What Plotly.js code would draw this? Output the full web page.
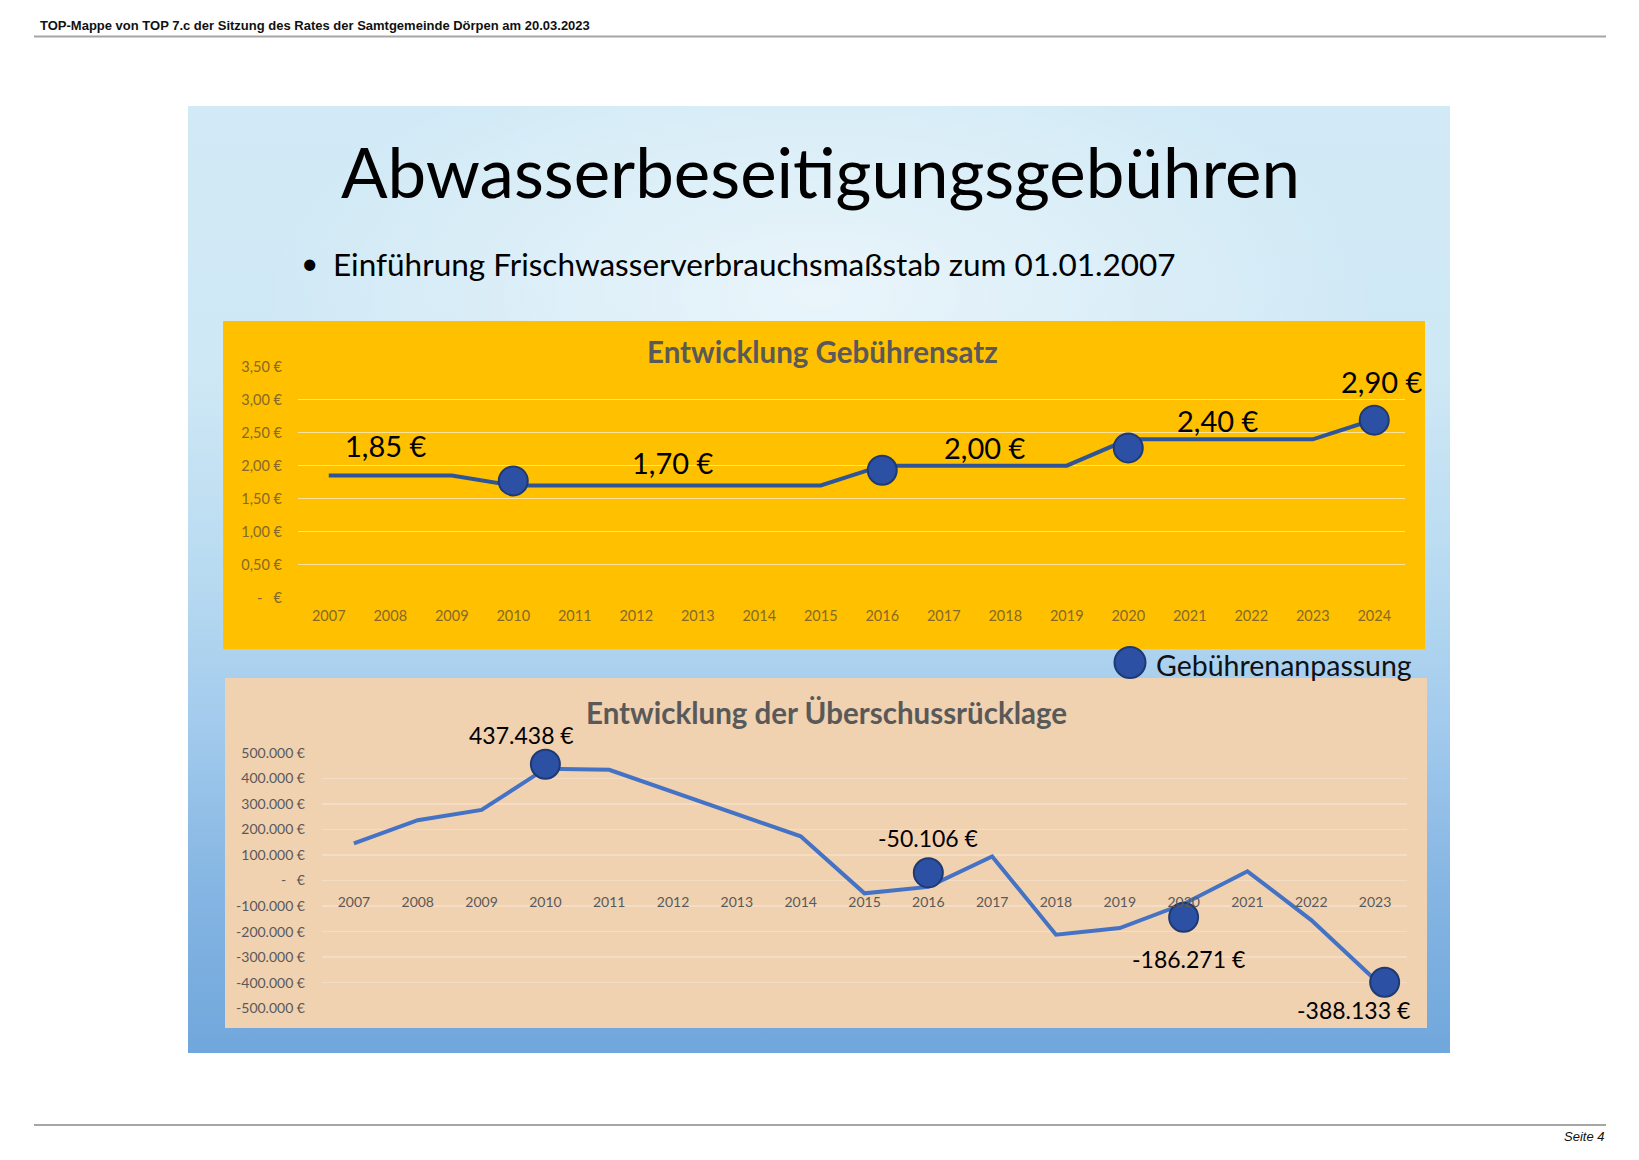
<!DOCTYPE html>
<html>
<head>
<meta charset="utf-8">
<script src="https://cdn.plot.ly/plotly-3.0.1.min.js"></script>
<style>
  html, body { margin: 0; padding: 0; background: #ffffff; }
  #wrap { position: relative; width: 1639px; height: 1160px; overflow: hidden; }
  #slide { position: absolute; left: 188px; top: 106px; width: 1262px; height: 947px;
    background:
      radial-gradient(ellipse 45% 28% at 50% 20%, rgba(255,255,255,0.55) 0%, rgba(255,255,255,0) 100%),
      linear-gradient(to bottom, #d1eaf6 0%, #cfe8f5 28%, #b7daf1 50%, #a3cbed 65%, #86b6e3 82%, #70a7dc 100%); }
  #chart { position: absolute; left: 0; top: 0; width: 1639px; height: 1160px; }
</style>
</head>
<body>
<div id="wrap">
  <div id="slide"></div>
  <div id="chart"></div>
</div>
<script>
// ---------- data ----------
const years1 = [2007, 2008, 2009, 2010, 2011, 2012, 2013, 2014, 2015, 2016, 2017, 2018, 2019, 2020, 2021, 2022, 2023, 2024];
const rate = [1.85, 1.85, 1.85, 1.70, 1.70, 1.70, 1.70, 1.70, 1.70, 2.00, 2.00, 2.00, 2.00, 2.40, 2.40, 2.40, 2.40, 2.70];
const adjYears1 = [2010, 2016, 2020, 2024];
const adjRate = [1.77, 1.93, 2.27, 2.69];
const rateLabels = ['1,85 €', '1,70 €', '2,00 €', '2,40 €', '2,90 €'];
const rateLabelYears = [2008, 2013, 2018, 2021, 2024];
const rateTicks = [0, 0.5, 1.0, 1.5, 2.0, 2.5, 3.0, 3.5];
const rateTickText = ['-\u00a0\u00a0\u00a0€', '0,50 €', '1,00 €', '1,50 €', '2,00 €', '2,50 €', '3,00 €', '3,50 €'];

const years2 = [2007, 2008, 2009, 2010, 2011, 2012, 2013, 2014, 2015, 2016, 2017, 2018, 2019, 2020, 2021, 2022, 2023];
const reserve = [145000, 236000, 276000, 437438, 433000, 346000, 260000, 173000, -50106, -25000, 94000, -212000, -186271, -92000, 36000, -155000, -388133];
const adjYears2 = [2010, 2016, 2020, 2023.15];
const adjReserve = [455000, 30000, -144000, -398000];
const reserveLabels = ['437.438 €', '-50.106 €', '-186.271 €', '-388.133 €'];
const reserveTicks = [-500000, -400000, -300000, -200000, -100000, 0, 100000, 200000, 300000, 400000, 500000];
const reserveTickText = ['-500.000 €', '-400.000 €', '-300.000 €', '-200.000 €', '-100.000 €', '-\u00a0\u00a0\u00a0€', '100.000 €', '200.000 €', '300.000 €', '400.000 €', '500.000 €'];

const headerText = 'TOP-Mappe von TOP 7.c der Sitzung des Rates der Samtgemeinde Dörpen am 20.03.2023';
const footerText = 'Seite 4';
const slideTitle = 'Abwasserbeseitigungsgebühren';
const slideBullet = 'Einführung Frischwasserverbrauchsmaßstab zum 01.01.2007';
const chart1Title = 'Entwicklung Gebührensatz';
const chart2Title = 'Entwicklung der Überschussrücklage';
const legendText = 'Gebührenanpassung';

// ---------- layout helpers ----------
const W = 1639, H = 1160;
const px = x => x / W;
const py = y => 1 - y / H;

const gothic = 'Lato, "Open Sans", sans-serif';
const calibri = 'Lato, "Open Sans", sans-serif';
const blueMark = '#2c50a3';
const blueEdge = '#1f3a73';

const traces = [
  { x: years1, y: rate, xaxis: 'x', yaxis: 'y', type: 'scatter', mode: 'lines',
    line: { color: '#2f5597', width: 4 }, hoverinfo: 'skip', showlegend: false },
  { x: adjYears1, y: adjRate, xaxis: 'x', yaxis: 'y', type: 'scatter', mode: 'markers',
    marker: { size: 29, color: blueMark, line: { color: blueEdge, width: 2 } }, cliponaxis: false,
    hoverinfo: 'skip', showlegend: false },
  { x: years2, y: reserve, xaxis: 'x2', yaxis: 'y2', type: 'scatter', mode: 'lines',
    line: { color: '#4472c4', width: 4 }, hoverinfo: 'skip', showlegend: false },
  { x: adjYears2, y: adjReserve, xaxis: 'x2', yaxis: 'y2', type: 'scatter', mode: 'markers',
    marker: { size: 29, color: blueMark, line: { color: blueEdge, width: 2 } }, cliponaxis: false,
    hoverinfo: 'skip', showlegend: false }
];

const rateShift = [[-5, 30], [-25, 23.5], [-21, 18], [28, 19], [7, 38.5]];
const reserveShift = [[-23.5, 29.5], [0, 35], [5, -42], [-31, -28]];

const annotations = [];
annotations.push({ xref: 'paper', yref: 'paper', x: px(38), y: py(25), xanchor: 'left', yanchor: 'middle',
  text: '<b>' + headerText + '</b>', showarrow: false, font: { family: '"Liberation Sans", Arial, sans-serif', size: 13, color: '#111' } });
annotations.push({ xref: 'paper', yref: 'paper', x: px(1606), y: py(1136), xanchor: 'right', yanchor: 'middle',
  text: '<i>' + footerText + '</i>', showarrow: false, font: { family: '"Liberation Sans", Arial, sans-serif', size: 13, color: '#111' } });
annotations.push({ xref: 'paper', yref: 'paper', x: px(820), y: py(172), xanchor: 'center', yanchor: 'middle',
  text: slideTitle, showarrow: false, font: { family: gothic, size: 69, color: '#000' } });
annotations.push({ xref: 'paper', yref: 'paper', x: px(309), y: py(262), xanchor: 'center', yanchor: 'middle',
  text: '•', showarrow: false, font: { family: gothic, size: 30, color: '#000' } });
annotations.push({ xref: 'paper', yref: 'paper', x: px(331), y: py(264), xanchor: 'left', yanchor: 'middle',
  text: slideBullet, showarrow: false, font: { family: gothic, size: 31.5, color: '#000' } });
annotations.push({ xref: 'paper', yref: 'paper', x: px(823), y: py(352), xanchor: 'center', yanchor: 'middle',
  text: '<b>' + chart1Title + '</b>', showarrow: false, font: { family: gothic, size: 29.5, color: '#595959' } });
annotations.push({ xref: 'paper', yref: 'paper', x: px(826), y: py(712), xanchor: 'center', yanchor: 'middle',
  text: '<b>' + chart2Title + '</b>', showarrow: false, font: { family: calibri, size: 29.5, color: '#595959' } });
annotations.push({ xref: 'paper', yref: 'paper', x: px(1154), y: py(665), xanchor: 'left', yanchor: 'middle',
  text: legendText, showarrow: false, font: { family: gothic, size: 28.5, color: '#111' } });

rateLabels.forEach((t, i) => {
  const yr = rateLabelYears[i];
  annotations.push({ xref: 'x', yref: 'y', x: yr, y: rate[years1.indexOf(yr)], text: t, showarrow: false,
    xanchor: 'center', yanchor: 'middle', xshift: rateShift[i][0], yshift: rateShift[i][1],
    font: { family: gothic, size: 29, color: '#000' } });
});
reserveLabels.forEach((t, i) => {
  annotations.push({ xref: 'x2', yref: 'y2', x: adjYears2[i], y: adjReserve[i], text: t, showarrow: false,
    xanchor: 'center', yanchor: 'middle', xshift: reserveShift[i][0], yshift: reserveShift[i][1],
    font: { family: gothic, size: 23, color: '#000' } });
});

const shapes = [
  { type: 'line', xref: 'paper', yref: 'paper', x0: px(34), x1: px(1606), y0: py(36.5), y1: py(36.5), line: { color: '#a6a6a6', width: 2 } },
  { type: 'line', xref: 'paper', yref: 'paper', x0: px(34), x1: px(1606), y0: py(1125), y1: py(1125), line: { color: '#a6a6a6', width: 2 } },
  { type: 'rect', xref: 'paper', yref: 'paper', x0: px(223), x1: px(1425), y0: py(321), y1: py(649), line: { width: 0 }, fillcolor: '#ffc000', layer: 'below' },
  { type: 'rect', xref: 'paper', yref: 'paper', x0: px(225), x1: px(1427), y0: py(678), y1: py(1028), line: { width: 0 }, fillcolor: '#f0d1b0', layer: 'below' },
  { type: 'circle', xref: 'paper', yref: 'paper', x0: px(1114.5), x1: px(1145.5), y0: py(647), y1: py(678), line: { color: blueEdge, width: 2 }, fillcolor: blueMark }
];

const layout = {
  width: W, height: H,
  margin: { l: 0, r: 0, t: 0, b: 0, pad: 0 },
  paper_bgcolor: 'rgba(0,0,0,0)', plot_bgcolor: 'rgba(0,0,0,0)',
  showlegend: false,
  xaxis: { domain: [px(298), px(1405)], range: [2006.5, 2024.5], anchor: 'y',
    tickmode: 'array', tickvals: years1, ticktext: years1.map(String),
    showgrid: false, zeroline: false, showline: false, ticks: '', ticklabelstandoff: 8,
    tickfont: { family: gothic, size: 14.5, color: '#86692a' }, fixedrange: true },
  yaxis: { domain: [py(597.7), py(366.7)], range: [0, 3.5], anchor: 'x',
    tickmode: 'array', tickvals: rateTicks, ticktext: rateTickText,
    showgrid: true, gridcolor: '#fde29c', gridwidth: 1.5, zeroline: false, showline: false, ticks: '',
    ticklabelstandoff: 15, tickfont: { family: gothic, size: 14.5, color: '#86692a' }, fixedrange: true },
  xaxis2: { domain: [px(322), px(1407)], range: [2006.5, 2023.5], anchor: 'free', position: py(880.5),
    tickmode: 'array', tickvals: years2, ticktext: years2.map(String),
    showgrid: false, zeroline: false, showline: false, ticks: '', ticklabelstandoff: 11,
    tickfont: { family: calibri, size: 14, color: '#595959' }, fixedrange: true },
  yaxis2: { domain: [py(1008.3), py(752.7)], range: [-500000, 500000], anchor: 'x2',
    tickmode: 'array', tickvals: reserveTicks, ticktext: reserveTickText,
    showgrid: true, gridcolor: '#f5dcc4', gridwidth: 1.5, zeroline: false, showline: false, ticks: '',
    ticklabelstandoff: 16, tickfont: { family: calibri, size: 14, color: '#595959' }, fixedrange: true },
  shapes: shapes,
  annotations: annotations
};

Plotly.newPlot('chart', traces, layout, { staticPlot: true, displayModeBar: false });
</script>
</body>
</html>
